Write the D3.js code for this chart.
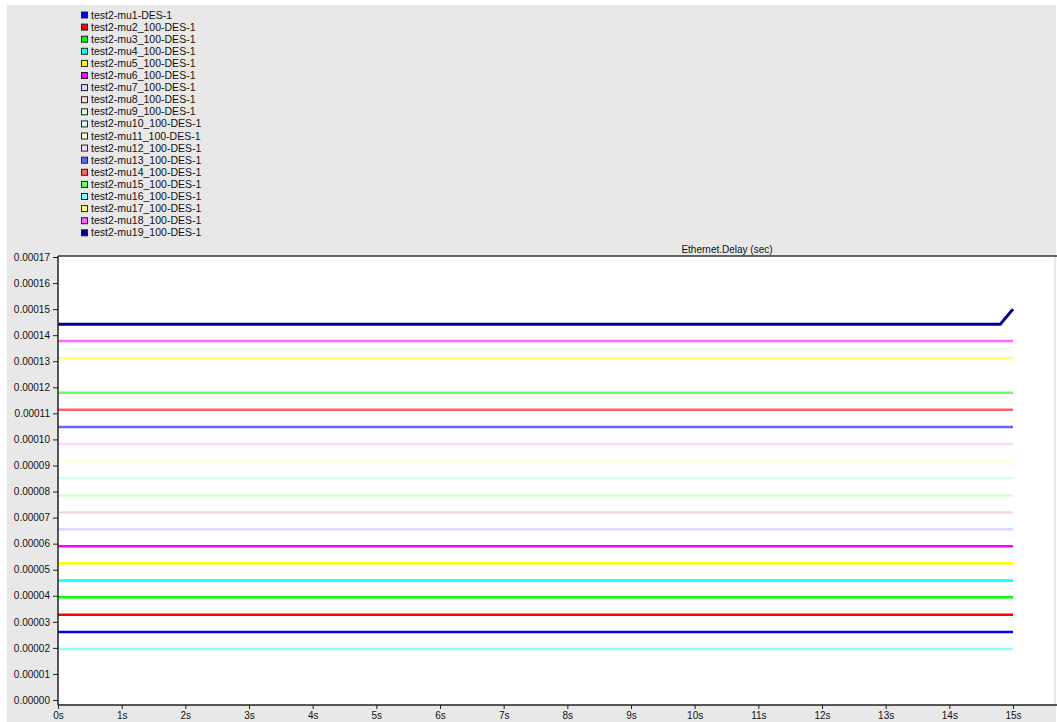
<!DOCTYPE html>
<html>
<head>
<meta charset="utf-8">
<script src="https://cdn.jsdelivr.net/npm/d3@7"></script>
<style>
  body { margin: 0; background: #fff; }
  text { font-family: "Liberation Sans", Arial, sans-serif; }
</style>
</head>
<body>
<div id="chart"></div>
<script>
// series names as in the legend
var seriesNames = [
  "test2-mu1-DES-1", "test2-mu2_100-DES-1", "test2-mu3_100-DES-1", "test2-mu4_100-DES-1",
  "test2-mu5_100-DES-1", "test2-mu6_100-DES-1", "test2-mu7_100-DES-1", "test2-mu8_100-DES-1",
  "test2-mu9_100-DES-1", "test2-mu10_100-DES-1", "test2-mu11_100-DES-1", "test2-mu12_100-DES-1",
  "test2-mu13_100-DES-1", "test2-mu14_100-DES-1", "test2-mu15_100-DES-1", "test2-mu16_100-DES-1",
  "test2-mu17_100-DES-1", "test2-mu18_100-DES-1", "test2-mu19_100-DES-1"
];
var seriesColors = [
  "#0000ff", "#ff0000", "#00ff00", "#00ffff", "#ffff00", "#ff00ff", "#d8d8ff", "#ffd4dc",
  "#d4ffd4", "#d4ffff", "#ffffd8", "#ffd8ff", "#6464ff", "#ff6464", "#64ff64", "#88ffff",
  "#ffff66", "#ff66ff", "#000090"
];
// time points (s) and delay values (sec) per series
var seriesTimes = [
  [0, 15], [0, 15], [0, 15], [0, 15], [0, 15], [0, 15], [0, 15], [0, 15], [0, 15], [0, 15],
  [0, 15], [0, 15], [0, 15], [0, 15], [0, 15], [0, 15], [0, 15], [0, 15], [0, 14.8, 15]
];
var seriesValues = [
  [0.0000261, 0.0000261], [0.0000327, 0.0000327], [0.0000394, 0.0000394], [0.0000459, 0.0000459],
  [0.0000525, 0.0000525], [0.0000590, 0.0000590], [0.0000655, 0.0000655], [0.0000720, 0.0000720],
  [0.0000785, 0.0000785], [0.0000851, 0.0000851], [0.0000917, 0.0000917], [0.0000982, 0.0000982],
  [0.0001048, 0.0001048], [0.0001114, 0.0001114], [0.0001179, 0.0001179], [0.0000196, 0.0000196],
  [0.0001311, 0.0001311], [0.0001378, 0.0001378], [0.0001442, 0.0001442, 0.0001500]
];
var yTickValues = [0, 0.00001, 0.00002, 0.00003, 0.00004, 0.00005, 0.00006, 0.00007, 0.00008,
  0.00009, 0.0001, 0.00011, 0.00012, 0.00013, 0.00014, 0.00015, 0.00016, 0.00017];
var xTickValues = [0, 1, 2, 3, 4, 5, 6, 7, 8, 9, 10, 11, 12, 13, 14, 15];
var chartTitle = "Ethernet.Delay (sec)";

var width = 1057, height = 722;
var plotLeft = 58, plotTop = 256, plotRight = 1054, plotBottom = 705;

var xScale = d3.scaleLinear().domain([0, 15]).range([plotLeft, 1013]);
var yScale = d3.scaleLinear().domain([0, 0.00017]).range([700, 257]);

var svg = d3.select("#chart").append("svg")
    .attr("width", width)
    .attr("height", height);

// grey panel
svg.append("rect").attr("x", 7).attr("y", 5).attr("width", width - 8).attr("height", height - 5)
    .attr("fill", "#e8e8e8");

// plot area
svg.append("rect").attr("x", plotLeft).attr("y", plotTop)
    .attr("width", plotRight - plotLeft).attr("height", plotBottom - plotTop)
    .attr("fill", "#fff");

svg.append("text")
    .attr("x", 727).attr("y", 253)
    .attr("text-anchor", "middle")
    .style("font-size", "10px")
    .attr("fill", "#111")
    .text(chartTitle);

var line = d3.line()
    .x(function(d) { return xScale(d.t); })
    .y(function(d) { return yScale(d.v); });

seriesNames.forEach(function(name, i) {
  var pts = seriesTimes[i].map(function(t, j) { return {t: t, v: seriesValues[i][j]}; });
  svg.append("path")
      .datum(pts)
      .attr("fill", "none")
      .attr("stroke", seriesColors[i])
      .attr("stroke-width", i == 18 ? 3 : 2.5)
      .attr("d", line);
});

// frame
svg.append("line").attr("x1", plotLeft).attr("x2", width).attr("y1", plotTop).attr("y2", plotTop)
    .attr("stroke", "#333").attr("stroke-width", 1.5);
svg.append("line").attr("x1", plotLeft).attr("x2", plotLeft).attr("y1", plotTop).attr("y2", plotBottom)
    .attr("stroke", "#222").attr("stroke-width", 1.5);
svg.append("line").attr("x1", plotLeft).attr("x2", width).attr("y1", plotBottom).attr("y2", plotBottom)
    .attr("stroke", "#222").attr("stroke-width", 1.5);

var yAxis = svg.append("g")
    .attr("transform", "translate(" + plotLeft + ",0)")
    .call(d3.axisLeft(yScale).tickValues(yTickValues).tickSize(5).tickPadding(3)
      .tickFormat(function(d) { return d.toFixed(5); }));
yAxis.select(".domain").remove();
yAxis.selectAll("text").style("font-size", "10px").attr("fill", "#111");
yAxis.selectAll("line").attr("stroke", "#222");

var xAxis = svg.append("g")
    .attr("transform", "translate(0," + plotBottom + ")")
    .call(d3.axisBottom(xScale).tickValues(xTickValues).tickSize(4).tickPadding(3)
      .tickFormat(function(d) { return d + "s"; }));
xAxis.select(".domain").remove();
xAxis.selectAll("text").style("font-size", "10px").attr("fill", "#111");
xAxis.selectAll("line").attr("stroke", "#222");

// legend
var legend = svg.append("g");
seriesNames.forEach(function(name, i) {
  legend.append("rect")
      .attr("x", 81.5).attr("y", 12 + i * 12.1)
      .attr("width", 6).attr("height", 6)
      .attr("fill", seriesColors[i])
      .attr("stroke", "#222").attr("stroke-width", 1);
  legend.append("text")
      .attr("x", 91).attr("y", 18.5 + i * 12.1)
      .style("font-size", "10.5px")
      .attr("fill", "#111")
      .text(name);
});
</script>
</body>
</html>
